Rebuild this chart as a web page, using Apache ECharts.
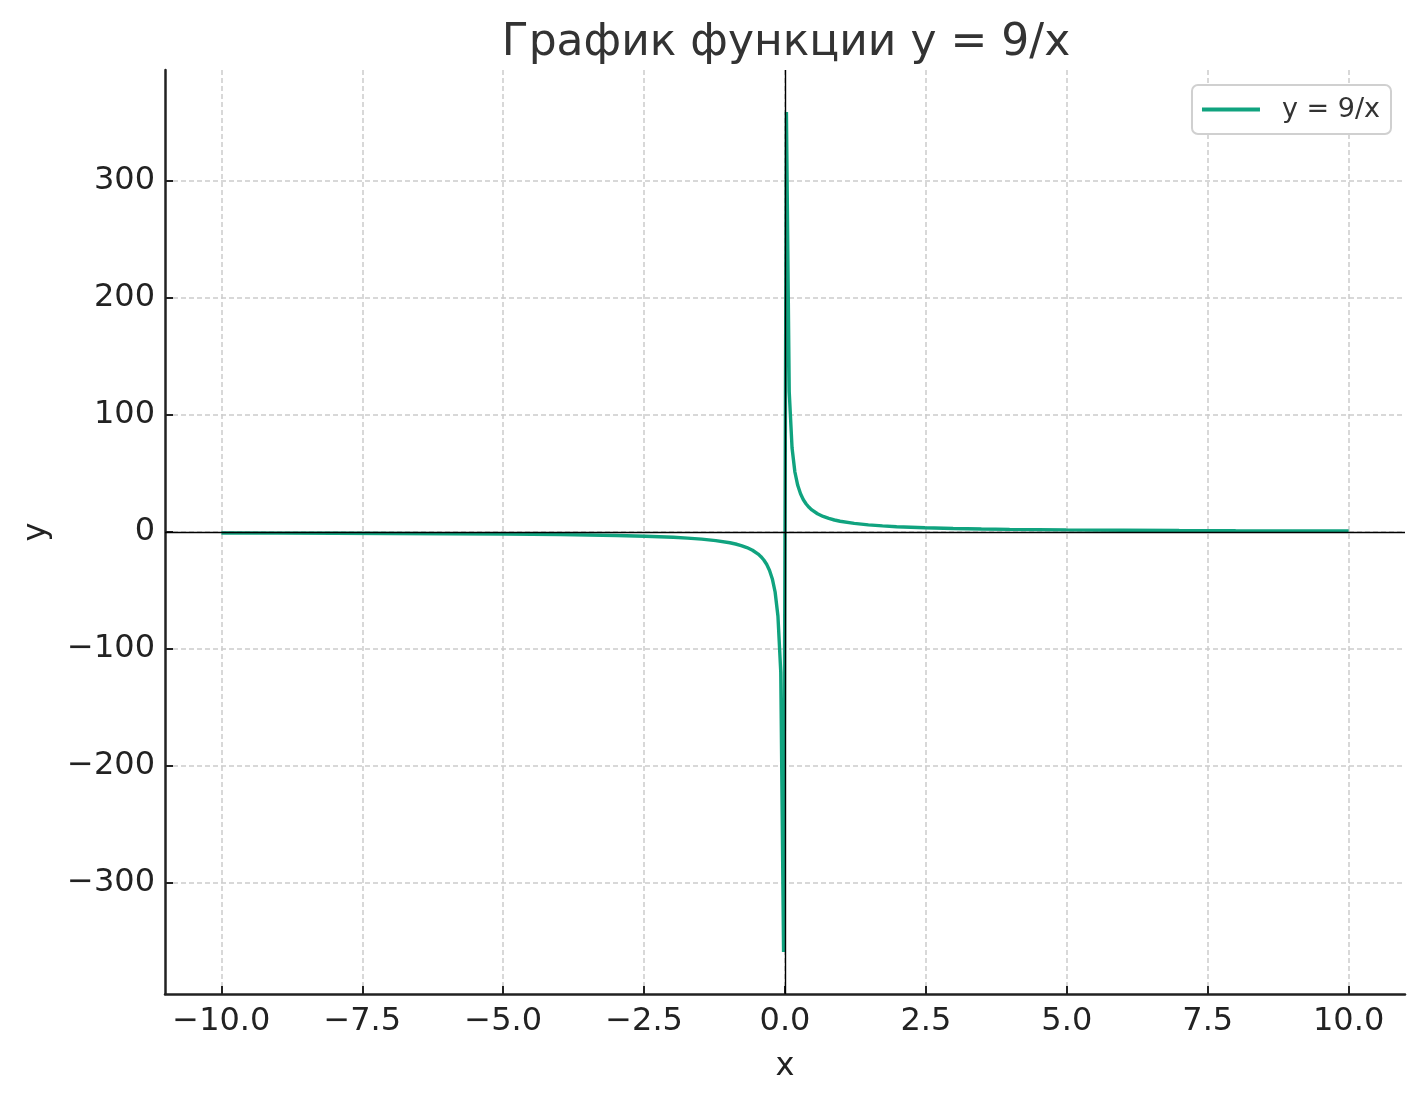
<!DOCTYPE html>
<html>
<head>
<meta charset="utf-8">
<script src="https://cdn.jsdelivr.net/npm/echarts@6/dist/echarts.min.js"></script>
<style>html,body{margin:0;padding:0;background:#fff}#c{width:1425px;height:1101px}</style>
</head>
<body>
<div id="c"></div>
<script>
var xNeg = [-10.0, -8.9975, -7.9950, -6.9925, -5.9900, -4.9875, -3.9850, -3.4837, -2.9825, -2.4812, -1.9799, -1.7293, -1.4787, -1.2281, -0.9774, -0.8772, -0.7769, -0.6767, -0.5764, -0.4762, -0.4261, -0.3759, -0.3258, -0.2757, -0.2256, -0.1754, -0.1253, -0.0752, -0.0251];
var yNeg = [-0.90, -1.00, -1.13, -1.29, -1.50, -1.80, -2.26, -2.58, -3.02, -3.63, -4.55, -5.20, -6.09, -7.33, -9.21, -10.26, -11.58, -13.30, -15.61, -18.90, -21.12, -23.94, -27.62, -32.65, -39.90, -51.30, -71.82, -119.7, -359.1];
var xPos = [0.0251, 0.0752, 0.1253, 0.1754, 0.2256, 0.2757, 0.3258, 0.3759, 0.4261, 0.4762, 0.5764, 0.6767, 0.7769, 0.8772, 0.9774, 1.2281, 1.4787, 1.7293, 1.9799, 2.4812, 2.9825, 3.4837, 3.9850, 4.9875, 5.9900, 6.9925, 7.9950, 8.9975, 10.0];
var yPos = [359.1, 119.7, 71.82, 51.30, 39.90, 32.65, 27.62, 23.94, 21.12, 18.90, 15.61, 13.30, 11.58, 10.26, 9.21, 7.33, 6.09, 5.20, 4.55, 3.63, 3.02, 2.58, 2.26, 1.80, 1.50, 1.29, 1.13, 1.00, 0.90];
var xTicks = [-10, -7.5, -5, -2.5, 0, 2.5, 5, 7.5, 10];
var yTicks = [-300, -200, -100, 0, 100, 200, 300];
var titleText = 'График функции y = 9/x';
var seriesName = 'y = 9/x';

var data = [];
xNeg.forEach(function (x, i) { data.push([x, yNeg[i]]); });
xPos.forEach(function (x, i) { data.push([x, yPos[i]]); });

var FONT = 'DejaVu Sans';
var chart = echarts.init(document.getElementById('c'), null, { renderer: 'canvas' });
var gridLine = { show: true, lineStyle: { color: '#cccccc', width: 1.5, type: [5, 3] } };
function minus(s) { return s.replace('-', '\u2212'); }

chart.setOption({
  animation: false,
  backgroundColor: '#ffffff',
  textStyle: { fontFamily: FONT },
  title: {
    text: titleText,
    left: 781,
    top: 17,
    textAlign: 'center',
    textStyle: { fontFamily: FONT, fontSize: 44, fontWeight: 'normal', color: '#333333' }
  },
  legend: {
    right: 34,
    top: 85,
    icon: 'rect',
    itemWidth: 58,
    itemHeight: 4,
    padding: [11, 11, 11, 10],
    backgroundColor: '#ffffff',
    borderColor: '#d0d0d0',
    borderWidth: 2,
    borderRadius: 6,
    textStyle: { fontFamily: FONT, fontSize: 27, color: '#333333', padding: [0, 0, 0, 17] },
    data: [seriesName]
  },
  grid: { left: 165, right: 20, top: 70, bottom: 107, containLabel: false },
  xAxis: {
    type: 'value',
    min: -11,
    max: 11,
    name: 'x',
    nameLocation: 'middle',
    nameGap: 57,
    nameTextStyle: { fontFamily: FONT, fontSize: 32, color: '#222222' },
    axisLine: { show: true, onZero: false, lineStyle: { color: '#222222', width: 2.5 } },
    axisTick: { show: true, inside: true, length: 8, customValues: xTicks, lineStyle: { color: '#222222', width: 2 } },
    axisLabel: {
      show: true, margin: 12, customValues: xTicks,
      fontFamily: FONT, fontSize: 32, color: '#222222',
      formatter: function (v) { return minus(Number(v).toFixed(1)); }
    },
    splitLine: gridLine
  },
  yAxis: {
    type: 'value',
    min: -395,
    max: 395,
    name: 'y',
    nameLocation: 'middle',
    nameGap: 112,
    nameTextStyle: { fontFamily: FONT, fontSize: 32, color: '#222222' },
    axisLine: { show: true, onZero: false, lineStyle: { color: '#222222', width: 2.5 } },
    axisTick: { show: true, inside: true, length: 8, customValues: yTicks, lineStyle: { color: '#222222', width: 2 } },
    axisLabel: {
      show: true, margin: 10, customValues: yTicks,
      fontFamily: FONT, fontSize: 32, color: '#222222',
      formatter: function (v) { return minus(String(Math.round(v))); }
    },
    splitLine: gridLine
  },
  series: [{
    name: seriesName,
    type: 'line',
    data: data,
    showSymbol: false,
    symbol: 'none',
    smooth: false,
    color: '#10a37f',
    lineStyle: { color: '#10a37f', width: 3.4 },
    markLine: {
      silent: true,
      symbol: ['none', 'none'],
      label: { show: false },
      lineStyle: { color: '#000000', width: 1.4, type: 'solid' },
      data: [{ xAxis: 0 }, { yAxis: 0 }]
    }
  }]
});
</script>
</body>
</html>
